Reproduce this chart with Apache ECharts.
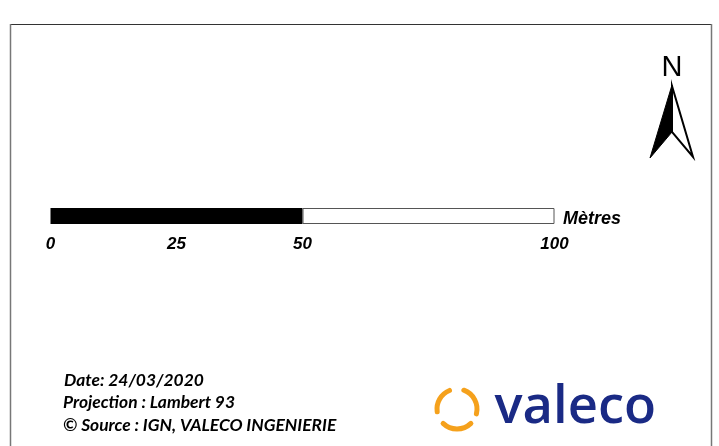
<!DOCTYPE html>
<html><head><meta charset="utf-8">
<style>html,body{margin:0;padding:0;background:#fff}#c{width:719px;height:446px}</style>
<script src="https://cdn.jsdelivr.net/npm/echarts@6/dist/echarts.min.js"></script>
</head><body><div id="c"></div>
<script>
const scaleSegments = ['bar'];
const blackLength = [50];
const whiteLength = [50];
const tickLabels = [0, 25, 50, 100];
const unitLabel = 'Mètres';
const northLabel = 'N';
const notes = ['Date: 24/03/2020', 'Projection : Lambert 93', '© Source : IGN, VALECO INGENIERIE'];
const logoText = 'valeco';

const chart = echarts.init(document.getElementById('c'), null, {renderer:'canvas'});
const noteY = [380, 402, 425];
const noteX = [64, 63, 63];
const rad = d => d*Math.PI/180;
chart.setOption({
  animation:false,
  backgroundColor:'#fff',
  grid:{left:50.5, width:504, top:208, height:16, containLabel:false},
  xAxis:{type:'value', min:0, max:100, position:'bottom',
    axisLine:{show:false}, axisTick:{show:false}, splitLine:{show:false},
    axisLabel:{customValues:tickLabels, margin:12, color:'#000', fontFamily:'Liberation Sans',
      fontStyle:'italic', fontWeight:'bold', fontSize:17, showMinLabel:true, showMaxLabel:true}},
  yAxis:{type:'category', data:scaleSegments, show:false},
  series:[
    {type:'bar', stack:'s', data:blackLength, barWidth:'100%', silent:true,
      itemStyle:{color:'#000', borderColor:'#000', borderWidth:0}},
    {type:'bar', stack:'s', data:whiteLength, barWidth:'100%', silent:true,
      itemStyle:{color:'#fff', borderColor:'#555', borderWidth:1}}
  ],
  graphic:[
    {type:'line', shape:{x1:10,y1:24.5,x2:712,y2:24.5}, style:{stroke:'#333',lineWidth:1}},
    {type:'line', shape:{x1:10.5,y1:24,x2:10.5,y2:446}, style:{stroke:'#777',lineWidth:1.5}},
    {type:'line', shape:{x1:711.5,y1:24,x2:711.5,y2:446}, style:{stroke:'#777',lineWidth:1.5}},
    {type:'text', style:{x:563,y:219,text:unitLabel,fill:'#000',font:'italic bold 18px "Liberation Sans"',verticalAlign:'middle'}},
    {type:'text', style:{x:672,y:68,text:northLabel,fill:'#000',font:'29px "Liberation Sans"',align:'center',verticalAlign:'middle'}},
    {type:'polygon', shape:{points:[[672,85],[650,158],[672,132]]}, style:{fill:'#000',stroke:'#000',lineWidth:1}},
    {type:'polygon', shape:{points:[[672,86],[693,157],[672,132]]}, style:{fill:'#fff',stroke:'#000',lineWidth:2}},
    ...notes.map((t,i)=>({type:'text', style:{x:noteX[i],y:noteY[i],text:t,fill:'#000',font:'italic bold 17.4px Lato',verticalAlign:'middle'}})),
    {type:'text', style:{x:494.5,y:408,text:logoText,fill:'#1a2a85',font:'600 52.5px "Open Sans"',verticalAlign:'middle'}},
    {type:'arc', shape:{cx:457,cy:409,r:20,startAngle:rad(248),endAngle:rad(172),clockwise:false}, style:{stroke:'#f5a11c',fill:null,lineWidth:5,lineCap:'round'}},
    {type:'arc', shape:{cx:457,cy:409,r:20,startAngle:rad(-70),endAngle:rad(14)}, style:{stroke:'#f5a11c',fill:null,lineWidth:5,lineCap:'round'}},
    {type:'arc', shape:{cx:457,cy:409,r:20,startAngle:rad(46),endAngle:rad(134)}, style:{stroke:'#f5a11c',fill:null,lineWidth:5,lineCap:'round'}}
  ]
});
</script></body></html>
